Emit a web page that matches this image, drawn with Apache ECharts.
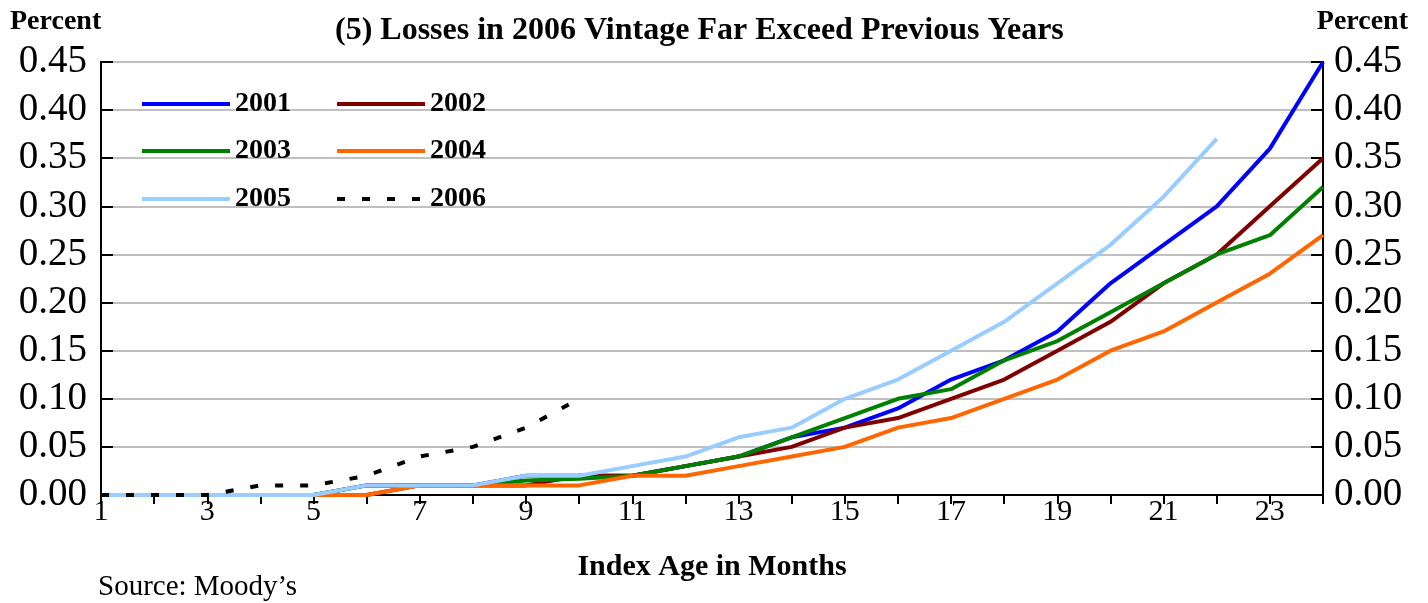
<!DOCTYPE html>
<html>
<head>
<meta charset="utf-8">
<script src="https://cdn.jsdelivr.net/npm/echarts@6/dist/echarts.min.js"></script>
<style>
  html, body { margin: 0; padding: 0; background: #fff; }
  #chart { width: 1428px; height: 603px; }
</style>
</head>
<body>
<div id="chart"></div>
<script>
const months = ['1', '2', '3', '4', '5', '6', '7', '8', '9', '10', '11', '12',
    '13', '14', '15', '16', '17', '18', '19', '20', '21', '22', '23', '24'];
const yTicks = [0, 0.05, 0.10, 0.15, 0.20, 0.25, 0.30, 0.35, 0.40, 0.45];

const v2001 = [0, 0, 0, 0, 0, 0.01, 0.01, 0.01, 0.02, 0.02, 0.02, 0.03, 0.04, 0.06, 0.07, 0.09, 0.12, 0.14, 0.17, 0.22, 0.26, 0.30, 0.36, 0.45];
const v2002 = [0, 0, 0, 0, 0, 0, 0.01, 0.01, 0.01, 0.02, 0.02, 0.03, 0.04, 0.05, 0.07, 0.08, 0.10, 0.12, 0.15, 0.18, 0.22, 0.25, 0.30, 0.35];
const v2003 = [0, 0, 0, 0, 0, 0.01, 0.01, 0.01, 0.015, 0.017, 0.02, 0.03, 0.04, 0.06, 0.08, 0.10, 0.11, 0.14, 0.16, 0.19, 0.22, 0.25, 0.27, 0.32];
const v2004 = [0, 0, 0, 0, 0, 0, 0.01, 0.01, 0.01, 0.01, 0.02, 0.02, 0.03, 0.04, 0.05, 0.07, 0.08, 0.10, 0.12, 0.15, 0.17, 0.20, 0.23, 0.27];
const v2005 = [0, 0, 0, 0, 0, 0.01, 0.01, 0.01, 0.02, 0.02, 0.03, 0.04, 0.06, 0.07, 0.10, 0.12, 0.15, 0.18, 0.22, 0.26, 0.31, 0.37, null, null];
const v2006 = [0, 0, 0, 0.01, 0.01, 0.02, 0.04, 0.05, 0.07, 0.10, null, null, null, null, null, null, null, null, null, null, null, null, null, null];

const serif = '"Liberation Serif", "Times New Roman", serif';

// legend: two columns, three rows
const legendPos = [
    { name: '2001', left: 140, top: 90 },
    { name: '2002', left: 335, top: 90 },
    { name: '2003', left: 140, top: 137 },
    { name: '2004', left: 335, top: 137 },
    { name: '2005', left: 140, top: 185 },
    { name: '2006', left: 335, top: 185 }
];

function line(name, data, color, dash) {
    return {
        name: name,
        type: 'line',
        data: data,
        symbol: 'none',
        connectNulls: false,
        lineStyle: {
            color: color,
            width: 4,
            type: dash ? [8, 17] : 'solid'
        },
        itemStyle: { color: color },
        animation: false
    };
}

const yAxisBase = {
    type: 'value',
    min: 0,
    max: 0.45,
    interval: 0.05,
    axisLine: { show: true, lineStyle: { color: '#000', width: 2 } },
    axisTick: { show: true, inside: true, length: 12, lineStyle: { color: '#000', width: 2 } },
    axisLabel: {
        fontFamily: serif,
        fontSize: 39,
        color: '#000',
        margin: 14,
        formatter(value) {
            return value.toFixed(2);
        }
    }
};

const option = {
    backgroundColor: '#fff',
    title: [
        {
            text: '(5) Losses in 2006 Vintage Far Exceed Previous Years',
            left: 335,
            top: 15,
            padding: 0,
            textStyle: { fontFamily: serif, fontSize: 32, fontWeight: 'bold', color: '#000' }
        },
        {
            text: 'Percent',
            left: 10,
            top: 8,
            padding: 0,
            textStyle: { fontFamily: serif, fontSize: 28, fontWeight: 'bold', color: '#000' }
        },
        {
            text: 'Percent',
            right: 20,
            top: 8,
            padding: 0,
            textStyle: { fontFamily: serif, fontSize: 28, fontWeight: 'bold', color: '#000' }
        },
        {
            text: 'Source: Moody\u2019s',
            left: 98,
            top: 573,
            padding: 0,
            textStyle: { fontFamily: serif, fontSize: 29, fontWeight: 'normal', color: '#000' }
        }
    ],
    legend: legendPos.map(p => ({
        data: [p.name],
        left: p.left,
        top: p.top,
        padding: 0,
        itemWidth: 88,
        itemHeight: 14,
        itemStyle: { opacity: 0 },
        lineStyle: { width: 4 },
        textStyle: { fontFamily: serif, fontSize: 28, fontWeight: 'bold', color: '#000', lineHeight: 28 }
    })),
    grid: {
        left: 101,
        right: 105,
        top: 62,
        bottom: 108,
        show: true,
        borderColor: '#000',
        borderWidth: 2
    },
    xAxis: {
        type: 'category',
        data: months,
        boundaryGap: false,
        name: 'Index Age in Months',
        nameLocation: 'middle',
        nameGap: 57,
        nameTextStyle: { fontFamily: serif, fontSize: 30, fontWeight: 'bold', color: '#000' },
        axisLine: { show: true, lineStyle: { color: '#000', width: 2 } },
        axisTick: { show: true, interval: 0, length: 9, lineStyle: { color: '#000', width: 2 } },
        axisLabel: { interval: 1, fontFamily: serif, fontSize: 30, color: '#000', margin: 2 },
        splitLine: { show: false }
    },
    yAxis: [
        Object.assign({}, yAxisBase, {
            position: 'left',
            splitLine: { show: true, lineStyle: { color: '#c0c0c0', width: 2 } }
        }),
        Object.assign({}, yAxisBase, {
            position: 'right',
            axisLabel: Object.assign({}, yAxisBase.axisLabel, { margin: 11 }),
            splitLine: { show: false }
        })
    ],
    series: [
        line('2001', v2001, '#0000ff'),
        line('2002', v2002, '#800000'),
        line('2003', v2003, '#008000'),
        line('2004', v2004, '#ff6600'),
        line('2005', v2005, '#99ccff'),
        line('2006', v2006, '#000000', true)
    ]
};

const chart = echarts.init(document.getElementById('chart'));
chart.setOption(option);
</script>
</body>
</html>
